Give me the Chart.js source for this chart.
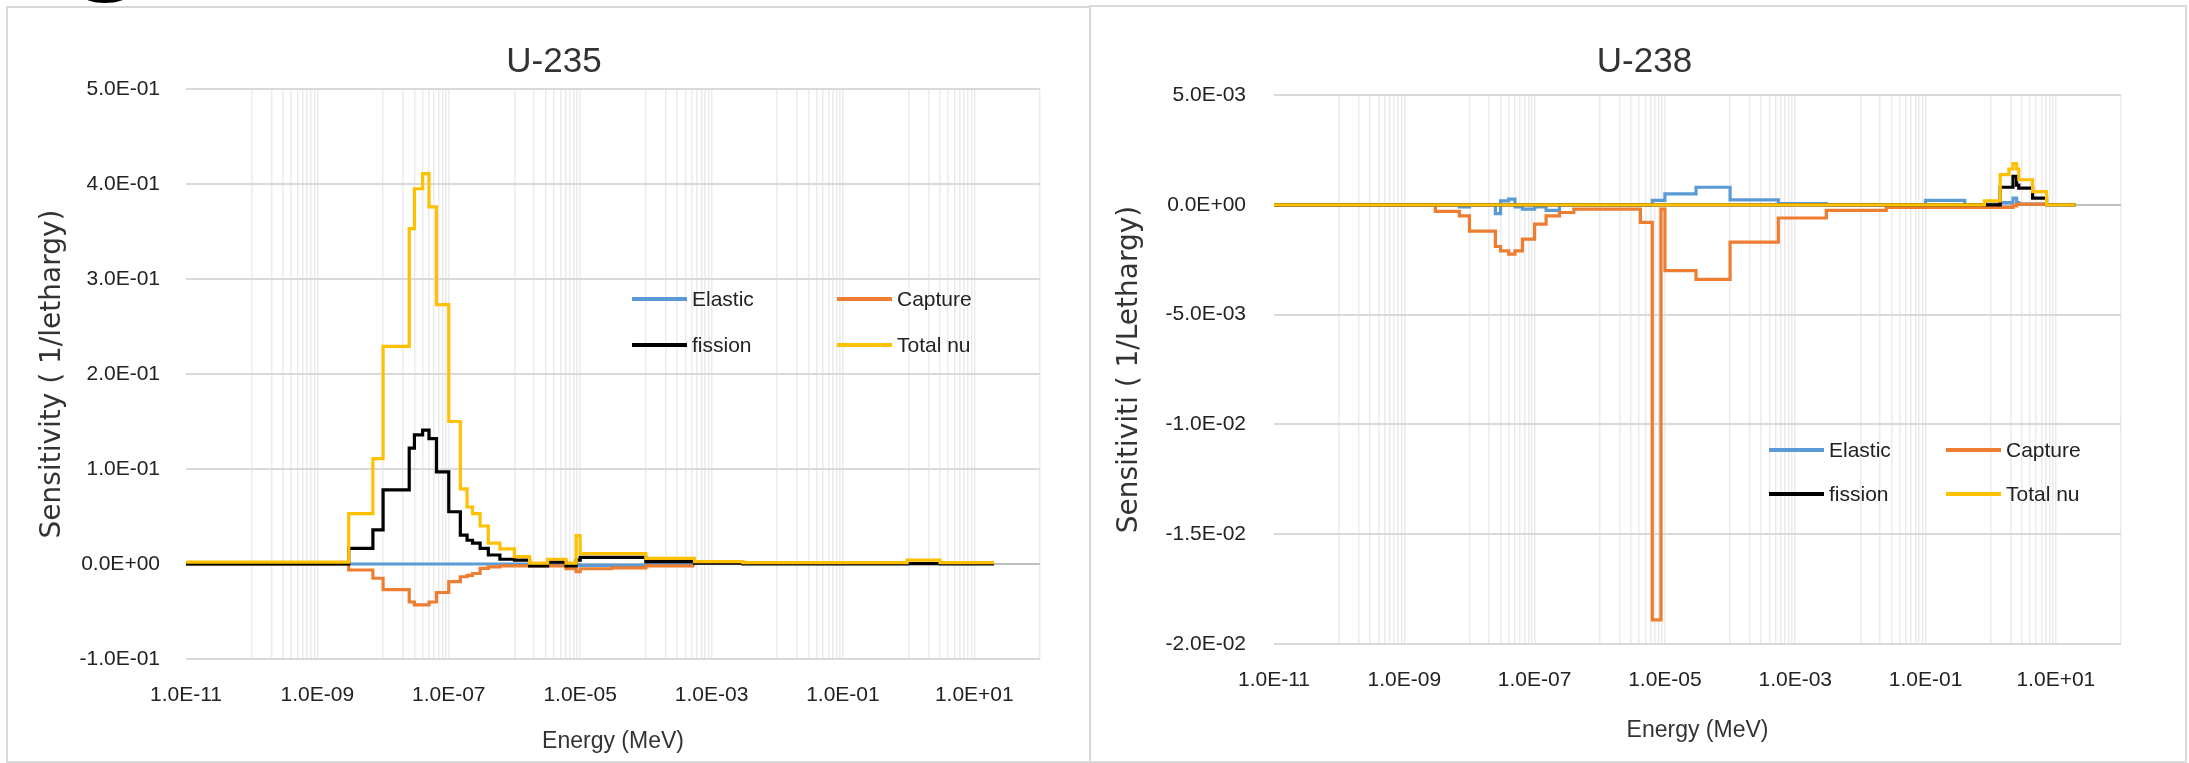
<!DOCTYPE html>
<html lang="en">
<head>
<meta charset="utf-8">
<title>U-235 / U-238 sensitivity</title>
<script src="https://cdn.jsdelivr.net/npm/chart.js@4.4.1/dist/chart.umd.min.js"></script>
<style>
  html, body { margin: 0; padding: 0; background: #fff; }
  body { position: relative; width: 2189px; height: 763px; overflow: hidden;
         font-family: "Liberation Sans", Arial, sans-serif; }
  .frame { position: absolute; border: 2px solid #d9d9d9; box-sizing: border-box; }
  .plot  { position: absolute; }
  .lg    { position: absolute; display: flex; align-items: center; height: 24px;
           font-size: 21px; color: #222; white-space: nowrap; }
  .lg i  { display: inline-block; width: 55px; height: 4px; margin-right: 5px; }
  .blob  { position: absolute; left: 83px; top: -12px; width: 44px; height: 15px;
           background: #000; border-radius: 50%; }
</style>
</head>
<body>
<div class="blob"></div>
<div class="frame" style="left:6px;top:6px;width:1085px;height:757px"></div>
<div class="frame" style="left:1089px;top:5px;width:1098px;height:758px"></div>
<div class="plot" style="left:7px;top:7px;width:1082px;height:753px"><canvas id="c235"></canvas></div>
<div class="plot" style="left:1091px;top:7px;width:1095px;height:753px"><canvas id="c238"></canvas></div>
<div id="legend235"></div>
<div id="legend238"></div>

<script>
"use strict";

const FONT = "'Liberation Sans', Arial, sans-serif";

// ── Series ──────────────────────────────────────────────────────────────────
const SERIES_NAMES  = ["Elastic", "Capture", "fission", "Total nu"];
const SERIES_COLORS = ["#5b9bd5", "#ed7d31", "#000000", "#ffc000"];

// x axis: labelled decades and decades that carry minor grid lines
const X_LABEL_EXP = [-11, -9, -7, -5, -3, -1, 1];
const X_MINOR_EXP = [-10, -8, -6, -4, -2, 0, 2];

// ── U-235 (group edges in MeV, one value per group) ─────────────────────────
const U235_E = [1e-11, 3e-9, 7e-9, 1e-8, 2.5e-8, 3e-8, 4e-8, 5e-8, 6.5e-8, 1e-7,
  1.5e-7, 1.9e-7, 2.3e-7, 3e-7, 4e-7, 6e-7, 1e-6, 1.7e-6, 3.2e-6, 6.1e-6,
  8.7e-6, 1e-5, 3e-5, 1e-4, 5.5e-4, 3e-3, 0.95, 3, 20];
const U235_ELASTIC = [0, 0, 0, 0, 0, 0, 0, 0, 0, 0,
  0, 0, 0, 0, 0, 0, 0, 0, 0, 0,
  -0.001, -0.0015, -0.0015, 0, null, null, null, null];
const U235_CAPTURE = [0, -0.0063, -0.015, -0.027, -0.040, -0.043, -0.043, -0.040, -0.030, -0.0186,
  -0.0134, -0.012, -0.010, -0.0045, -0.003, -0.002, -0.002, -0.002, -0.002, -0.005,
  -0.008, -0.005, -0.004, -0.002, null, null, null, null];
const U235_FISSION = [0, 0.0165, 0.036, 0.078, 0.122, 0.136, 0.141, 0.132, 0.097, 0.055,
  0.0305, 0.025, 0.022, 0.0165, 0.0095, 0.005, 0.004, -0.002, 0.002, -0.002,
  0.004, 0.007, 0.007, 0.0025, 0.001, 0, 0.0005, 0];
const U235_TOTAL_NU = [0.002, 0.053, 0.111, 0.229, 0.353, 0.395, 0.411, 0.376, 0.273, 0.150,
  0.079, 0.060, 0.053, 0.040, 0.022, 0.016, 0.0077, 0.001, 0.005, 0.001,
  0.030, 0.011, 0.011, 0.006, 0.0025, 0.0015, 0.004, 0.0015];

// ── U-238 ───────────────────────────────────────────────────────────────────
const U238_E = [1e-11, 3e-9, 7e-9, 1e-8, 2.5e-8, 3e-8, 4e-8, 5e-8, 6.5e-8, 1e-7,
  1.5e-7, 2.4e-7, 4e-7, 4.2e-6, 6.4e-6, 8.7e-6, 1e-5, 3e-5, 1e-4, 5.5e-4,
  3e-3, 2.5e-2, 0.1, 0.4, 0.8, 1.4, 1.9, 2.2, 2.5, 2.7, 4.4, 7.2, 20];
const U238_ELASTIC = [0, 0, -0.0001, 0, -0.0004, 0.00018, 0.00026, -0.0001, -0.0002, -0.0001,
  -0.00025, 0, 0, 0, 0.0002, 0.0002, 0.0005, 0.0008, 0.00022, 0.00005,
  0, 0, 0.0002, 0, 0.00003, 0.0001, 0.0001, 0.0003, 0.0001, 0.00003, 0.00003, null];
const U238_CAPTURE = [0, -0.0003, -0.0005, -0.0012, -0.0019, -0.0021, -0.00225, -0.0021, -0.00156, -0.00088,
  -0.0005, -0.00035, -0.0002, -0.0008, -0.0189, -0.0002, -0.0030, -0.0034, -0.0017, -0.0006,
  -0.00025, -0.00012, -0.00012, -0.00012, -0.00012, -0.00012, -0.00012, -0.00005, 0.00003, 0.00003, 0.00003, null];
const U238_FISSION = [0, 0, 0, 0, 0, 0, 0, 0, 0, 0,
  0, 0, 0, 0, 0, 0, 0, 0, 0, 0,
  0, 0, 0, 0, 0, 0.0008, 0.0008, 0.0013, 0.0009, 0.00076, 0.0003, 0];
const U238_TOTAL_NU = [0, 0, 0, 0, 0, 0, 0, 0, 0, 0,
  0, 0, 0, 0, 0, 0, 0, 0, 0, 0,
  0, 0, 0, 0, 0.00018, 0.00137, 0.00163, 0.00188, 0.00163, 0.00114, 0.0006, 0];

// ── Helpers ─────────────────────────────────────────────────────────────────
function fmtE(v) {
  const [m, e] = Number(v).toExponential(1).split("e");
  const n = parseInt(e, 10);
  return m + "E" + (n < 0 ? "-" : "+") + String(Math.abs(n)).padStart(2, "0");
}

function isDecade(v, list) {
  const l = Math.log10(v);
  return list.some(e => Math.abs(l - e) < 1e-9);
}

function xTickValues() {
  const vals = X_LABEL_EXP.map(e => Number("1e" + e));
  X_MINOR_EXP.forEach(e => {
    for (let m = 1; m <= 9; m++) {
      const v = Number(m + "e" + e);
      if (v <= 100) vals.push(v);
    }
  });
  return vals.sort((a, b) => a - b);
}
const X_TICKS = xTickValues();

function xGridColor(v) {
  if (v === undefined || v <= 1.0001e-11) return "rgba(0,0,0,0)";
  return "#ebebeb";
}

// histogram: value i held from edges[i] to edges[i+1]
function stepData(edges, vals) {
  const pts = [];
  vals.forEach((v, i) => {
    pts.push({ x: edges[i], y: v });
    if (v !== null && (i === vals.length - 1 || vals[i + 1] === null)) {
      pts.push({ x: edges[i + 1], y: v });
    }
  });
  return pts;
}

// ── Chart ───────────────────────────────────────────────────────────────────
function buildChart(id, c) {
  new Chart(document.getElementById(id), {
    type: "line",
    data: {
      datasets: SERIES_NAMES.map((name, i) => ({
        label: name,
        data: stepData(c.edges, c.values[i]),
        borderColor: SERIES_COLORS[i],
        backgroundColor: SERIES_COLORS[i],
        borderWidth: 3.2,
        pointRadius: 0,
        stepped: "before",
        fill: false,
        order: 4 - i,
      })),
    },
    options: {
      responsive: true,
      maintainAspectRatio: false,
      animation: false,
      layout: { padding: { left: 12, right: 0, top: 0, bottom: 0 } },
      plugins: {
        legend: { display: false },
        tooltip: { enabled: false },
        title: {
          display: true,
          text: c.title,
          color: "#333",
          font: { size: 35, family: FONT, weight: "normal" },
          padding: { top: c.titleTop, bottom: c.titleBottom },
        },
      },
      scales: {
        x: {
          type: "logarithmic",
          min: 1e-11,
          max: 100,
          border: { display: false },
          afterBuildTicks: s => { s.ticks = X_TICKS.map(v => ({ value: v })); },
          afterFit: s => { s.height = c.xHeight; },
          grid: { drawTicks: false, lineWidth: 1.5, color: ctx => xGridColor(ctx.tick && ctx.tick.value) },
          ticks: {
            autoSkip: false, maxRotation: 0, minRotation: 0, padding: c.xTickPad,
            color: "#222", font: { size: 21, family: FONT },
            callback: v => isDecade(v, X_LABEL_EXP) ? fmtE(v) : "",
          },
          title: {
            display: true, text: "Energy (MeV)", color: "#333",
            font: { size: 23, family: FONT },
            padding: { top: 0, bottom: c.xTitleBottom },
          },
        },
        y: {
          min: c.yMin,
          max: c.yMax,
          border: { display: false },
          afterFit: s => { s.width = c.yWidth; },
          grid: {
            drawTicks: false, lineWidth: 2,
            color: ctx => (ctx.tick && Math.abs(ctx.tick.value) < 1e-12) ? "#bfbfbf" : "#d9d9d9",
          },
          ticks: {
            stepSize: c.yStep, padding: c.yTickPad, color: "#222",
            font: { size: 21, family: FONT },
            callback: v => fmtE(Math.abs(v) < 1e-12 ? 0 : v),
          },
          title: {
            display: true, text: c.yTitle, color: "#333",
            font: { size: 28, family: "'DejaVu Sans', sans-serif" },
            padding: { top: c.yTitlePad, bottom: 0 },
          },
        },
        yGap: {
          position: "right",
          display: true,
          border: { display: false },
          grid: { display: false },
          ticks: { display: false },
          afterFit: s => { s.width = c.rightGap; },
        },
      },
    },
  });
}

function buildLegend(hostId, spots) {
  const host = document.getElementById(hostId);
  SERIES_NAMES.forEach((name, i) => {
    const d = document.createElement("div");
    d.className = "lg";
    d.style.left = spots[i][0] + "px";
    d.style.top = (spots[i][1] - 12) + "px";
    d.innerHTML = `<i style="background:${SERIES_COLORS[i]}"></i>${name}`;
    host.appendChild(d);
  });
}

buildChart("c235", {
  title: "U-235",
  yTitle: "Sensitivity ( 1/lethargy)",
  edges: U235_E,
  values: [U235_ELASTIC, U235_CAPTURE, U235_FISSION, U235_TOTAL_NU],
  yMin: -0.1, yMax: 0.5, yStep: 0.1,
  titleTop: 34, titleBottom: 6,
  xHeight: 101, xTickPad: 24, xTitleBottom: 4.5,
  yWidth: 167, yTickPad: 26, yTitlePad: 17,
  rightGap: 49,
});

buildChart("c238", {
  title: "U-238",
  yTitle: "Sensitiviti ( 1/Lethargy)",
  edges: U238_E,
  values: [U238_ELASTIC, U238_CAPTURE, U238_FISSION, U238_TOTAL_NU],
  yMin: -0.02, yMax: 0.005, yStep: 0.005,
  titleTop: 34.5, titleBottom: 11.5,
  xHeight: 116, xTickPad: 23.5, xTitleBottom: 16,
  yWidth: 171, yTickPad: 28, yTitlePad: 10,
  rightGap: 65,
});

buildLegend("legend235", [[632, 299], [837, 299], [632, 345], [837, 345]]);
buildLegend("legend238", [[1769, 450], [1946, 450], [1769, 494], [1946, 494]]);
</script>
</body>
</html>
